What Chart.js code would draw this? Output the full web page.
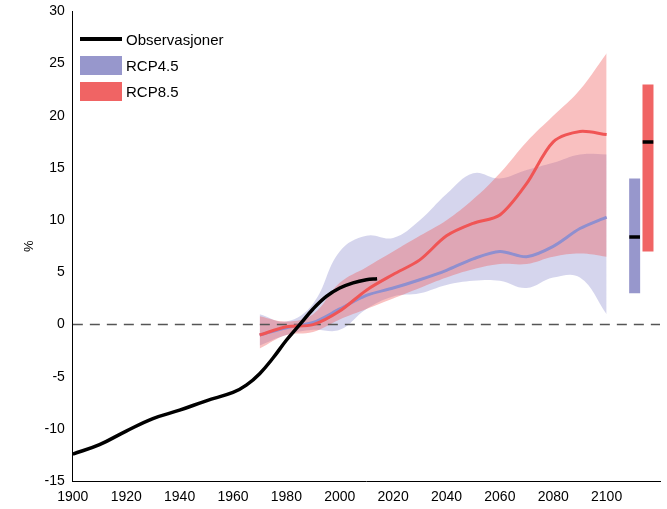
<!DOCTYPE html><html><head><meta charset="utf-8">
<script src="https://cdn.jsdelivr.net/npm/chart.js@4"></script>
<style>body{margin:0;background:#fff;font-family:"Liberation Sans",Arial,sans-serif}
#w{position:relative;width:667px;height:509px}
#lg{position:absolute;left:80px;top:26px;font-size:15px;color:#000}
#lg div{display:flex;align-items:center;height:26px}
#lg span.s{display:inline-block;width:42px;margin-right:4px}
</style></head><body><div id="w"><canvas id="c" width="667" height="509"></canvas>
<div id="lg"><div><span class="s" style="height:4px;background:#000"></span>Observasjoner</div>
<div><span class="s" style="height:19px;background:#9797cc"></span>RCP4.5</div>
<div><span class="s" style="height:19px;background:#f06464"></span>RCP8.5</div></div></div>
<script>
const obsYears=[1900,1910,1920,1930,1940,1950,1960,1965,1970,1975,1980,1985,1990,1995,2000,2005,2010,2014];
const obsVals=[-12.4,-11.5,-10.2,-9.0,-8.2,-7.3,-6.5,-5.8,-4.7,-3.2,-1.5,0,1.5,2.7,3.5,4.0,4.3,4.4];
const rcpYears=[1970,1980,1990,2000,2010,2020,2030,2040,2050,2060,2070,2080,2090,2100];
const rcp45Mean=[-1,-0.3,0.2,1.5,2.8,3.5,4.3,5.2,6.3,7.0,6.5,7.5,9.2,10.3];
const rcp45Up=[1,0.3,2,7,8.5,8.3,10,12.5,14.5,14,14.8,15.5,16.3,16.3];
const rcp45Lo=[-2,-1,-0.5,-0.5,1.5,2.7,3,3.8,4.2,4.2,3.5,4.5,4.5,1];
const rcp85Mean=[-1,-0.2,0,1.3,3.3,4.8,6.2,8.5,9.7,10.5,13.5,17.5,18.5,18.2];
const rcp85Up=[0.8,0.3,1,4,5.5,7,8.5,10,12,14.5,17.5,20,22.5,26];
const rcp85Lo=[-2.3,-1,-0.7,0.5,1.5,2.5,3.5,4.5,5.3,5.8,5.8,6.5,6.8,6.5];
const bar45=[3,14,8.4], bar85=[7,23,17.5];
const xy=(xs,ys)=>xs.map((x,i)=>({x,y:ys[i]}));
const B='rgba(150,150,210,0.4)',R='rgba(240,90,90,0.38)';
const ds=[
{data:xy(rcpYears,rcp45Up),borderWidth:0,pointRadius:0,fill:'+1',backgroundColor:B,tension:0.4},
{data:xy(rcpYears,rcp45Lo),borderWidth:0,pointRadius:0,fill:false,tension:0.4},
{data:xy(rcpYears,rcp85Up),borderWidth:0,pointRadius:0,fill:'+1',backgroundColor:R,tension:0.4},
{data:xy(rcpYears,rcp85Lo),borderWidth:0,pointRadius:0,fill:false,tension:0.4},
{data:[{x:1900,y:0},{x:2120,y:0}],borderColor:'#555',borderWidth:1.5,borderDash:[10,7],pointRadius:0},
{data:xy(rcpYears,rcp45Mean),borderColor:'#8f8fcf',borderWidth:3,pointRadius:0,tension:0.3},
{data:xy(rcpYears,rcp85Mean),borderColor:'#f05555',borderWidth:3,pointRadius:0,tension:0.3},
{data:xy(obsYears,obsVals),borderColor:'#000',borderWidth:3.5,pointRadius:0,tension:0.4},
{data:[{x:2110.5,y:bar45[0]},{x:2110.5,y:bar45[1]}],borderColor:'#9797cc',borderWidth:11,pointRadius:0,borderCapStyle:'butt'},
{data:[{x:2115.5,y:bar85[0]},{x:2115.5,y:bar85[1]}],borderColor:'#f06464',borderWidth:11,pointRadius:0,borderCapStyle:'butt'},
{data:[{x:2108.5,y:bar45[2]},{x:2112.5,y:bar45[2]}],borderColor:'#000',borderWidth:3.5,pointRadius:0},
{data:[{x:2113.5,y:bar85[2]},{x:2117.5,y:bar85[2]}],borderColor:'#000',borderWidth:3.5,pointRadius:0}
];
ds.forEach((d,i)=>d.order=ds.length-i);
new Chart(document.getElementById('c'),{type:'line',data:{datasets:ds},options:{responsive:false,animation:false,
layout:{padding:{top:9,right:7,left:18}},
plugins:{legend:{display:false},tooltip:{enabled:false}},
scales:{x:{type:'linear',min:1900,max:2120,afterBuildTicks:a=>{a.ticks=[];for(let v=1900;v<=2100;v+=20)a.ticks.push({value:v});},
grid:{display:false,drawTicks:true,tickLength:5,color:'#000'},border:{color:'#000',width:1},ticks:{color:'#000',font:{size:14,family:'Liberation Sans'},maxRotation:0,callback:v=>String(v)}},
y:{min:-15,max:30,ticks:{stepSize:5,color:'#000',font:{size:14,family:'Liberation Sans'}},grid:{display:false,tickLength:5},border:{color:'#000'},
title:{display:true,text:'%',color:'#000',font:{size:13}}}}}});
</script></body></html>
